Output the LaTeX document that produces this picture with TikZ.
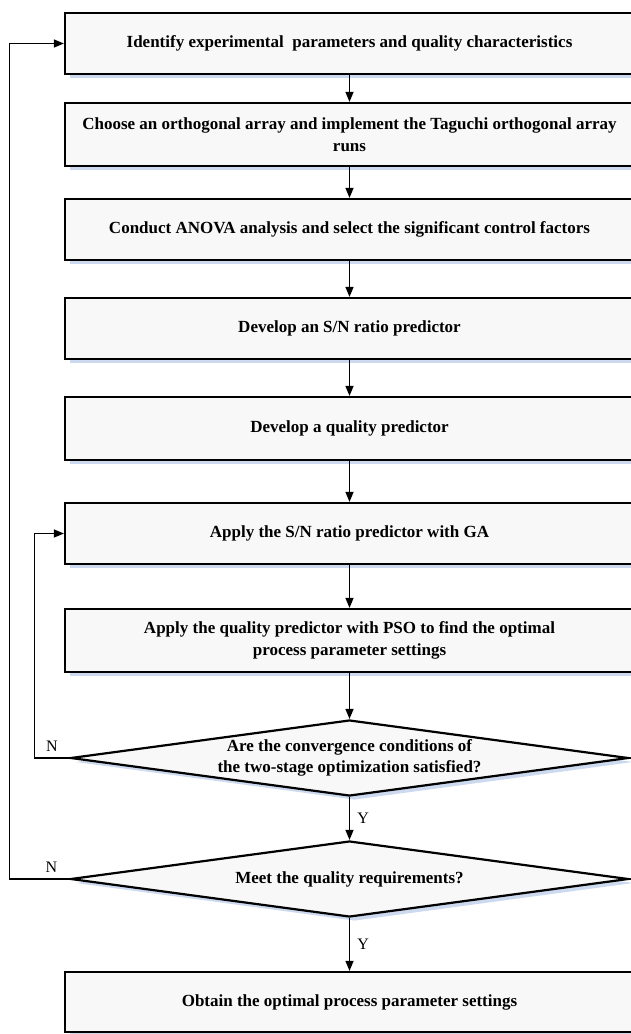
\documentclass[tikz,border=0pt]{standalone}
\usepackage{fontspec}
\setmainfont{Liberation Serif}
\usetikzlibrary{shapes.geometric, arrows.meta, positioning, shadows}
\definecolor{boxfill}{RGB}{248, 248, 248}
\definecolor{shadeblue}{RGB}{204, 217, 238}

\tikzset{
  stepbox/.style={draw, line width=2.2pt, fill=boxfill, minimum width=569pt, inner sep=4pt,
    align=center, font=\bfseries\fontsize{17}{22}\selectfont,
    drop shadow={shadow xshift=5pt, shadow yshift=-4pt, fill=shadeblue, opacity=1}},
  decision/.style={draw, diamond, aspect=7.3, line width=2.2pt, fill=boxfill,
    minimum width=558pt, minimum height=76pt, inner xsep=0pt, inner ysep=-4pt,
    align=center, font=\bfseries\fontsize{17}{21}\selectfont,
    drop shadow={shadow xshift=5pt, shadow yshift=-4pt, fill=shadeblue, opacity=1}},
  flow/.style={line width=1.3pt, -{Triangle[length=10pt, width=8pt]}},
  answer/.style={font=\fontsize{16}{18}\selectfont}
}

\begin{document}
\begin{tikzpicture}[x=1pt, y=1pt]
  \useasboundingbox (0,0) rectangle (631,-1034);

  % main steps
  \node[stepbox, minimum height=61pt] (ident) at (349.5,-43.5) {Identify experimental\ \ parameters and quality characteristics};
  \node[stepbox, minimum height=63pt] (choose) at (349.5,-134.5) {Choose an orthogonal array and implement the Taguchi orthogonal array\\runs};
  \node[stepbox, minimum height=61pt] (anova) at (349.5,-229.5) {Conduct ANOVA analysis and select the significant control factors};
  \node[stepbox, minimum height=61pt] (snpred) at (349.5,-328.5) {Develop an S/N ratio predictor};
  \node[stepbox, minimum height=63pt] (qpred) at (349.5,-428.5) {Develop a quality predictor};
  \node[stepbox, minimum height=61pt] (ga) at (349.5,-533.5) {Apply the S/N ratio predictor with GA};
  \node[stepbox, minimum height=63pt] (pso) at (349.5,-640.5) {Apply the quality predictor with PSO to find the optimal\\process parameter settings};

  % checks
  \node[decision] (conv) at (349.5,-758) {Are the convergence conditions of\\the two-stage optimization satisfied?};
  \node[decision] (meet) at (349.5,-879) {Meet the quality requirements?};

  \node[stepbox, minimum height=60pt] (best) at (349.5,-1002) {Obtain the optimal process parameter settings};

  % arrows down the chain
  \draw[flow] (ident) -- (choose);
  \draw[flow] (choose) -- (anova);
  \draw[flow] (anova) -- (snpred);
  \draw[flow] (snpred) -- (qpred);
  \draw[flow] (qpred) -- (ga);
  \draw[flow] (ga) -- (pso);
  \draw[flow] (pso) -- (conv);
  \draw[flow] (conv) -- node[answer, right=4pt] {Y} (meet);
  \draw[flow] (meet) -- node[answer, right=4pt] {Y} (best);

  % feedback loops
  \draw[flow] (conv.west) -- node[answer, above=3pt, pos=0.5] {N} ++(-35,0) |- (ga.west);
  \draw[flow] (meet.west) -- node[answer, above=3pt, pos=0.3] {N} ++(-60,0) |- (ident.west);
\end{tikzpicture}
\end{document}
